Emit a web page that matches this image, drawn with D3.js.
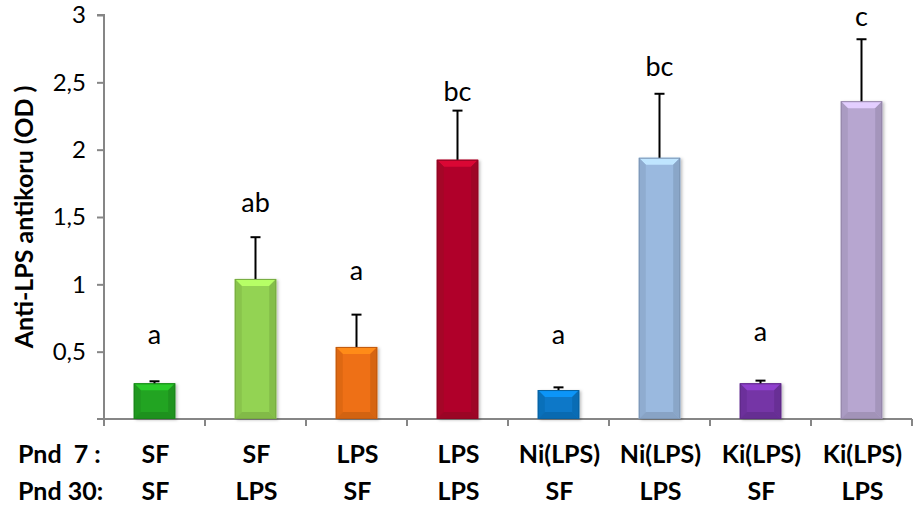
<!DOCTYPE html>
<html>
<head>
<meta charset="utf-8">
<script src="https://cdn.jsdelivr.net/npm/d3@7"></script>
<style>
  html, body { margin: 0; padding: 0; background: #fff; }
  svg { display: block; }
  text { font-family: Lato, "Open Sans", sans-serif; fill: #000; }
</style>
</head>
<body>
<svg id="chart" width="920" height="509"></svg>
<script>
// ---- data ----
const categories = ["g1", "g2", "g3", "g4", "g5", "g6", "g7", "g8"];
const pnd7Labels  = ["SF", "SF", "LPS", "LPS", "Ni(LPS)", "Ni(LPS)", "Ki(LPS)", "Ki(LPS)"];
const pnd30Labels = ["SF", "LPS", "SF", "LPS", "SF", "LPS", "SF", "LPS"];
const means  = [0.265, 1.04, 0.535, 1.925, 0.215, 1.94, 0.265, 2.36];
const errors = [0.015, 0.31, 0.24, 0.365, 0.02, 0.475, 0.02, 0.46];
const letters = ["a", "ab", "a", "bc", "a", "bc", "a", "c"];
const letterY = [0.56, 1.54, 1.03, 2.36, 0.56, 2.55, 0.58, 2.92];
const barColors = ["#22a422", "#93d352", "#ee7013", "#b0062a", "#0a78c8", "#9ab9df", "#7434a6", "#b7a6d0"];
const yTicks = [0.5, 1, 1.5, 2, 2.5, 3];
const yTickLabels = ["0,5", "1", "1,5", "2", "2,5", "3"];
const yTitle = "Anti-LPS antikoru (OD )";
const rowLabels = ["Pnd  7 :", "Pnd 30:"];

// ---- layout ----
const svg = d3.select("#chart");
const mLeft = 104, mRight = 912, mTop = 15, mBottom = 419;

const x = d3.scaleBand().domain(categories).range([mLeft, mRight]).paddingInner(0.59).paddingOuter(0.295);
const y = d3.scaleLinear().domain([0, 3]).range([mBottom, mTop]);

// y axis
const yAxis = svg.append("g").attr("transform", `translate(${mLeft},0)`)
  .call(d3.axisLeft(y).tickValues(yTicks).tickFormat((d, i) => yTickLabels[i]).tickSize(7).tickPadding(11));
yAxis.select(".domain").attr("stroke", "#868686").attr("stroke-width", 2).attr("d", `M-7,${mTop}H0V${mBottom}`);
yAxis.selectAll(".tick line").attr("stroke", "#868686").attr("stroke-width", 2);
yAxis.selectAll(".tick text").style("font-size", "24px").style("font-family", "Lato, 'Open Sans', sans-serif").attr("fill", "#000");

// x axis
const xAxisG = svg.append("g").attr("transform", `translate(0,${mBottom})`);
xAxisG.append("line").attr("x1", mLeft - 7).attr("x2", mRight).attr("y1", 0).attr("y2", 0)
  .attr("stroke", "#868686").attr("stroke-width", 2);
const bounds = categories.map(c => x(c) - x.step() * x.paddingInner() / 2).concat([mRight]);
xAxisG.selectAll("line.tk").data(bounds).enter().append("line").attr("class", "tk")
  .attr("x1", d => d).attr("x2", d => d).attr("y1", 0).attr("y2", 7)
  .attr("stroke", "#868686").attr("stroke-width", 2);

// bars with bevel
const defs = svg.append("defs");
const filt = defs.append("filter").attr("id", "shadow").attr("x", "-20%").attr("y", "-20%").attr("width", "150%").attr("height", "150%");
filt.append("feDropShadow").attr("dx", 2).attr("dy", 1).attr("stdDeviation", 1.5).attr("flood-color", "#000").attr("flood-opacity", 0.25);

const barsG = svg.append("g");
categories.forEach((c, i) => {
  const x0 = x(c), w = x.bandwidth(), y0 = y(means[i]), y1 = y(0), h = y1 - y0;
  const col = d3.color(barColors[i]);
  const b = Math.min(7, h / 2, w / 2);
  const g = barsG.append("g");
  g.append("rect").attr("x", x0).attr("y", y0).attr("width", w).attr("height", h)
    .attr("fill", col.formatHex()).attr("filter", "url(#shadow)");
  const poly = (pts, fill) => g.append("polygon").attr("points", pts.map(p => p.join(",")).join(" ")).attr("fill", fill);
  poly([[x0, y0], [x0 + w, y0], [x0 + w - b, y0 + b], [x0 + b, y0 + b]], col.brighter(0.6).formatHex());
  poly([[x0, y0], [x0 + b, y0 + b], [x0 + b, y1 - b], [x0, y1]], col.darker(0.2).formatHex());
  poly([[x0 + w, y0], [x0 + w - b, y0 + b], [x0 + w - b, y1 - b], [x0 + w, y1]], col.darker(0.3).formatHex());
  poly([[x0, y1], [x0 + b, y1 - b], [x0 + w - b, y1 - b], [x0 + w, y1]], col.darker(0.35).formatHex());
  g.append("rect").attr("x", x0 + 0.5).attr("y", y0 + 0.5).attr("width", w - 1).attr("height", h - 1)
    .attr("fill", "none").attr("stroke", col.darker(0.6).formatHex()).attr("stroke-width", 1);

  // error bar
  const cx = x0 + w / 2, ye = y(means[i] + errors[i]);
  svg.append("line").attr("x1", cx).attr("x2", cx).attr("y1", y0).attr("y2", ye).attr("stroke", "#000").attr("stroke-width", 2);
  svg.append("line").attr("x1", cx - 5).attr("x2", cx + 5).attr("y1", ye).attr("y2", ye).attr("stroke", "#000").attr("stroke-width", 2);

  // letter
  svg.append("text").attr("x", cx).attr("y", y(letterY[i])).attr("text-anchor", "middle")
    .style("font-size", "27px").text(letters[i]);

  // category labels
  svg.append("text").attr("x", cx + 1).attr("y", 463).attr("text-anchor", "middle")
    .style("font-size", "25px").style("font-weight", "bold").text(pnd7Labels[i]);
  svg.append("text").attr("x", cx + 1).attr("y", 500).attr("text-anchor", "middle")
    .style("font-size", "25px").style("font-weight", "bold").text(pnd30Labels[i]);
});

// row labels
svg.append("text").attr("x", 18).attr("y", 463).style("font-size", "25px").style("font-weight", "bold")
  .style("white-space", "pre").attr("xml:space", "preserve").text(rowLabels[0]);
svg.append("text").attr("x", 18).attr("y", 500).style("font-size", "25px").style("font-weight", "bold")
  .text(rowLabels[1]);

// y title
svg.append("text").attr("transform", `translate(33,217) rotate(-90)`)
  .attr("text-anchor", "middle").style("font-size", "25px").style("font-weight", "bold")
  .attr("xml:space", "preserve").text(yTitle);
</script>
</body>
</html>
